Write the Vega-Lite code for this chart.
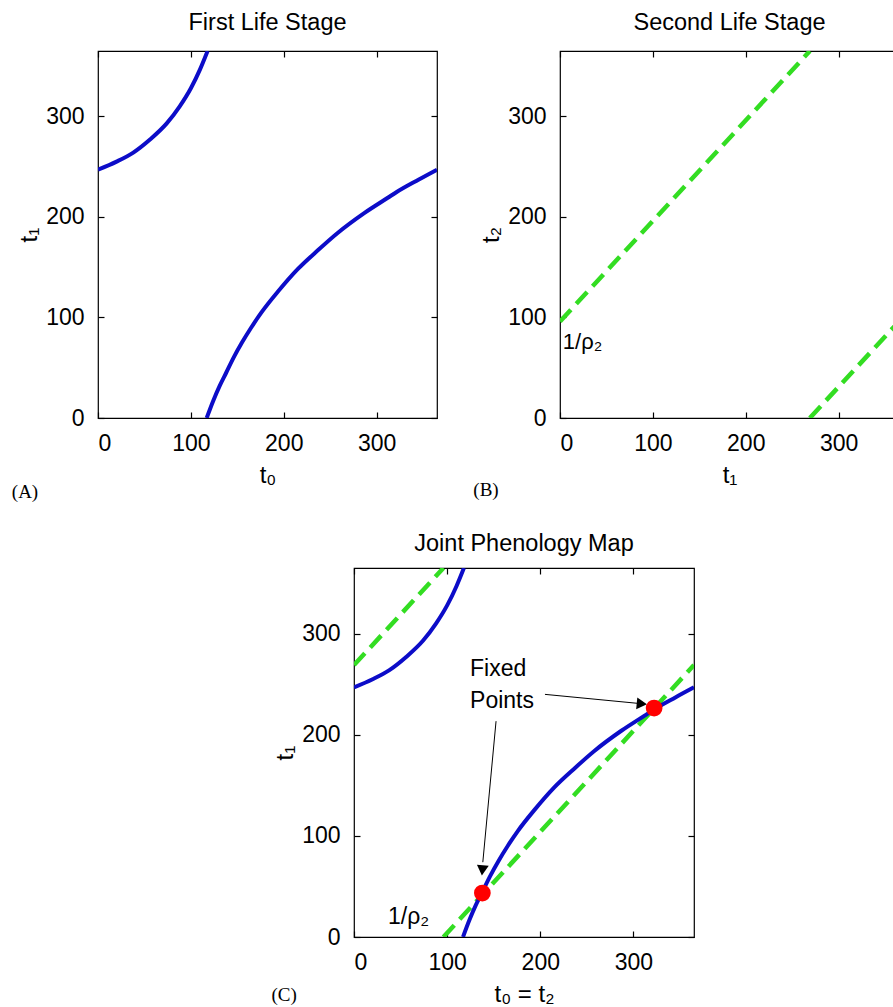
{
  "$schema": "https://vega.github.io/schema/vega-lite/v6.json",
  "padding": {"left": 11, "top": 10, "right": 0, "bottom": 0},
  "config": {
    "font": "Liberation Sans",
    "view": {"stroke": "#000", "strokeWidth": 1.2},
    "axis": {"grid": false, "domain": false, "tickSize": -6, "tickColor": "#000", "tickWidth": 1.2,
      "labelFontSize": 23, "labelColor": "#000", "labelFont": "Liberation Sans", "labelPadding": 20,
      "titleFontSize": 24, "titleFontWeight": "normal", "titleColor": "#000", "titleFont": "Liberation Sans"},
    "axisX": {"titlePadding": 8},
    "axisY": {"titlePadding": 4},
    "title": {"fontSize": 23.5, "fontWeight": "normal", "font": "Liberation Sans", "color": "#000", "offset": 16}
  },
  "datasets": {
    "blue": [
      {"x": 0, "y": 247, "seg": "a"}, {"x": 20, "y": 255, "seg": "a"}, {"x": 38, "y": 264, "seg": "a"},
      {"x": 56, "y": 277, "seg": "a"}, {"x": 74, "y": 293, "seg": "a"}, {"x": 88, "y": 310, "seg": "a"},
      {"x": 100, "y": 328, "seg": "a"}, {"x": 110, "y": 347, "seg": "a"}, {"x": 118, "y": 365, "seg": "a"},
      {"x": 117, "y": 0, "seg": "b"}, {"x": 124, "y": 17, "seg": "b"}, {"x": 131, "y": 32, "seg": "b"},
      {"x": 138, "y": 45, "seg": "b"}, {"x": 146, "y": 60, "seg": "b"}, {"x": 155, "y": 75, "seg": "b"},
      {"x": 165, "y": 90, "seg": "b"}, {"x": 176, "y": 105, "seg": "b"}, {"x": 194, "y": 126, "seg": "b"},
      {"x": 215, "y": 148, "seg": "b"}, {"x": 237, "y": 167, "seg": "b"}, {"x": 258, "y": 184, "seg": "b"},
      {"x": 287, "y": 204, "seg": "b"}, {"x": 312, "y": 219, "seg": "b"}, {"x": 322, "y": 225, "seg": "b"},
      {"x": 345, "y": 237, "seg": "b"}, {"x": 365, "y": 247, "seg": "b"}
    ],
    "greenB": [
      {"x": 0, "y": 96, "seg": "a"}, {"x": 269, "y": 365, "seg": "a"},
      {"x": 269, "y": 0, "seg": "b"}, {"x": 365, "y": 96, "seg": "b"}
    ],
    "greenC": [
      {"x": 0, "y": 269, "seg": "a"}, {"x": 96, "y": 365, "seg": "a"},
      {"x": 96, "y": 0, "seg": "b"}, {"x": 365, "y": 269, "seg": "b"}
    ]
  },
  "spacing": 27,
  "vconcat": [
    {
      "bounds": "flush",
      "spacing": 123,
      "hconcat": [
        {
          "width": 339, "height": 367,
          "title": "First Life Stage",
          "layer": [
            {
              "encoding": {
                "x": {"field": "x", "type": "quantitative", "scale": {"domain": [0, 365], "nice": false, "zero": false}, "axis": {"values": [0, 100, 200, 300], "title": "t₀"}},
                "y": {"field": "y", "type": "quantitative", "scale": {"domain": [0, 365], "nice": false, "zero": false}, "axis": {"values": [0, 100, 200, 300], "title": "t₁"}}
              },
              "layer": [
                {"data": {"name": "blue"}, "mark": {"type": "line", "color": "#0c0cc8", "strokeWidth": 4, "clip": true, "interpolate": "monotone"}, "encoding": {"detail": {"field": "seg"}}},
                {"data": {"values": [{"x": -78.6, "y": -74, "t": "(A)"}]}, "mark": {"type": "text", "font": "Liberation Serif", "fontSize": 19, "color": "#000"}, "encoding": {"text": {"field": "t"}}}
              ]
            },
            {
              "data": {"values": [{"x": 0, "y": 0}]},
              "mark": {"type": "point", "opacity": 0},
              "encoding": {
                "x": {"field": "x", "type": "quantitative", "scale": {"domain": [0, 365], "nice": false, "zero": false}, "axis": {"orient": "top", "values": [0, 100, 200, 300], "labels": false, "title": null}},
                "y": {"field": "y", "type": "quantitative", "scale": {"domain": [0, 365], "nice": false, "zero": false}, "axis": {"orient": "right", "values": [0, 100, 200, 300], "labels": false, "title": null}}
              }
            }
          ],
          "resolve": {"scale": {"x": "independent", "y": "independent"}}
        },
        {
          "width": 339, "height": 367,
          "title": "Second Life Stage",
          "layer": [
            {
              "encoding": {
                "x": {"field": "x", "type": "quantitative", "scale": {"domain": [0, 365], "nice": false, "zero": false}, "axis": {"values": [0, 100, 200, 300], "title": "t₁"}},
                "y": {"field": "y", "type": "quantitative", "scale": {"domain": [0, 365], "nice": false, "zero": false}, "axis": {"values": [0, 100, 200, 300], "title": "t₂"}}
              },
              "layer": [
                {"data": {"name": "greenB"}, "mark": {"type": "line", "color": "#33dd22", "strokeWidth": 4.5, "strokeDash": [16, 8], "clip": true}, "encoding": {"detail": {"field": "seg"}}},
                {"data": {"values": [{"x": 3, "y": 76, "t": "1/ρ₂"}]}, "mark": {"type": "text", "fontSize": 22, "align": "left", "baseline": "middle", "color": "#000"}, "encoding": {"text": {"field": "t"}}},
                {"data": {"values": [{"x": -79.7, "y": -72, "t": "(B)"}]}, "mark": {"type": "text", "font": "Liberation Serif", "fontSize": 19, "color": "#000"}, "encoding": {"text": {"field": "t"}}}
              ]
            },
            {
              "data": {"values": [{"x": 0, "y": 0}]},
              "mark": {"type": "point", "opacity": 0},
              "encoding": {
                "x": {"field": "x", "type": "quantitative", "scale": {"domain": [0, 365], "nice": false, "zero": false}, "axis": {"orient": "top", "values": [0, 100, 200, 300], "labels": false, "title": null}},
                "y": {"field": "y", "type": "quantitative", "scale": {"domain": [0, 365], "nice": false, "zero": false}, "axis": {"orient": "right", "values": [0, 100, 200, 300], "labels": false, "title": null}}
              }
            }
          ],
          "resolve": {"scale": {"x": "independent", "y": "independent"}}
        }
      ]
    },
    {
      "bounds": "flush",
      "spacing": 255,
      "hconcat": [
        {
          "width": 1, "height": 1,
          "view": {"stroke": null},
          "data": {"values": [{"a": 0}]},
          "mark": {"type": "point", "opacity": 0},
          "encoding": {"x": {"field": "a", "type": "quantitative", "axis": null}, "y": {"field": "a", "type": "quantitative", "axis": null}}
        },
        {
          "width": 340, "height": 369,
          "title": {"text": "Joint Phenology Map", "offset": 12},
          "layer": [
            {
              "encoding": {
                "x": {"field": "x", "type": "quantitative", "scale": {"domain": [0, 365], "nice": false, "zero": false}, "axis": {"values": [0, 100, 200, 300], "title": "t₀ = t₂"}},
                "y": {"field": "y", "type": "quantitative", "scale": {"domain": [0, 365], "nice": false, "zero": false}, "axis": {"values": [0, 100, 200, 300], "title": "t₁"}}
              },
              "layer": [
                {"data": {"name": "greenC"}, "mark": {"type": "line", "color": "#33dd22", "strokeWidth": 4.5, "strokeDash": [16, 8], "clip": true}, "encoding": {"detail": {"field": "seg"}}},
                {"data": {"name": "blue"}, "mark": {"type": "line", "color": "#0c0cc8", "strokeWidth": 4, "clip": true, "interpolate": "monotone"}, "encoding": {"detail": {"field": "seg"}}},
                {"data": {"values": [{"x": 205, "y": 240, "x2": 306, "y2": 231}, {"x": 152.5, "y": 213.5, "x2": 138.3, "y2": 74}]}, "mark": {"type": "rule", "color": "#000", "strokeWidth": 1}, "encoding": {"x2": {"field": "x2"}, "y2": {"field": "y2"}}},
                {"data": {"values": [{"x": 309, "y": 230.6}]}, "mark": {"type": "point", "shape": "triangle-right", "angle": 5.6, "filled": true, "color": "#000", "size": 140, "opacity": 1}},
                {"data": {"values": [{"x": 137.8, "y": 66}]}, "mark": {"type": "point", "shape": "triangle-down", "angle": 5.3, "filled": true, "color": "#000", "size": 140, "opacity": 1}},
                {"data": {"values": [{"x": 137.8, "y": 43.5}, {"x": 322.2, "y": 226.5}]}, "mark": {"type": "circle", "color": "#ff0000", "size": 280, "opacity": 1}},
                {"data": {"values": [{"x": 124.6, "y": 265, "t": "Fixed"}, {"x": 124.6, "y": 233, "t": "Points"}, {"x": 36.5, "y": 20, "t": "1/ρ₂"}]}, "mark": {"type": "text", "fontSize": 23, "align": "left", "baseline": "middle", "color": "#000"}, "encoding": {"text": {"field": "t"}}},
                {"data": {"values": [{"x": -75, "y": -57.4, "t": "(C)"}]}, "mark": {"type": "text", "font": "Liberation Serif", "fontSize": 19, "color": "#000"}, "encoding": {"text": {"field": "t"}}}
              ]
            },
            {
              "data": {"values": [{"x": 0, "y": 0}]},
              "mark": {"type": "point", "opacity": 0},
              "encoding": {
                "x": {"field": "x", "type": "quantitative", "scale": {"domain": [0, 365], "nice": false, "zero": false}, "axis": {"orient": "top", "values": [0, 100, 200, 300], "labels": false, "title": null}},
                "y": {"field": "y", "type": "quantitative", "scale": {"domain": [0, 365], "nice": false, "zero": false}, "axis": {"orient": "right", "values": [0, 100, 200, 300], "labels": false, "title": null}}
              }
            }
          ],
          "resolve": {"scale": {"x": "independent", "y": "independent"}}
        }
      ]
    }
  ]
}
